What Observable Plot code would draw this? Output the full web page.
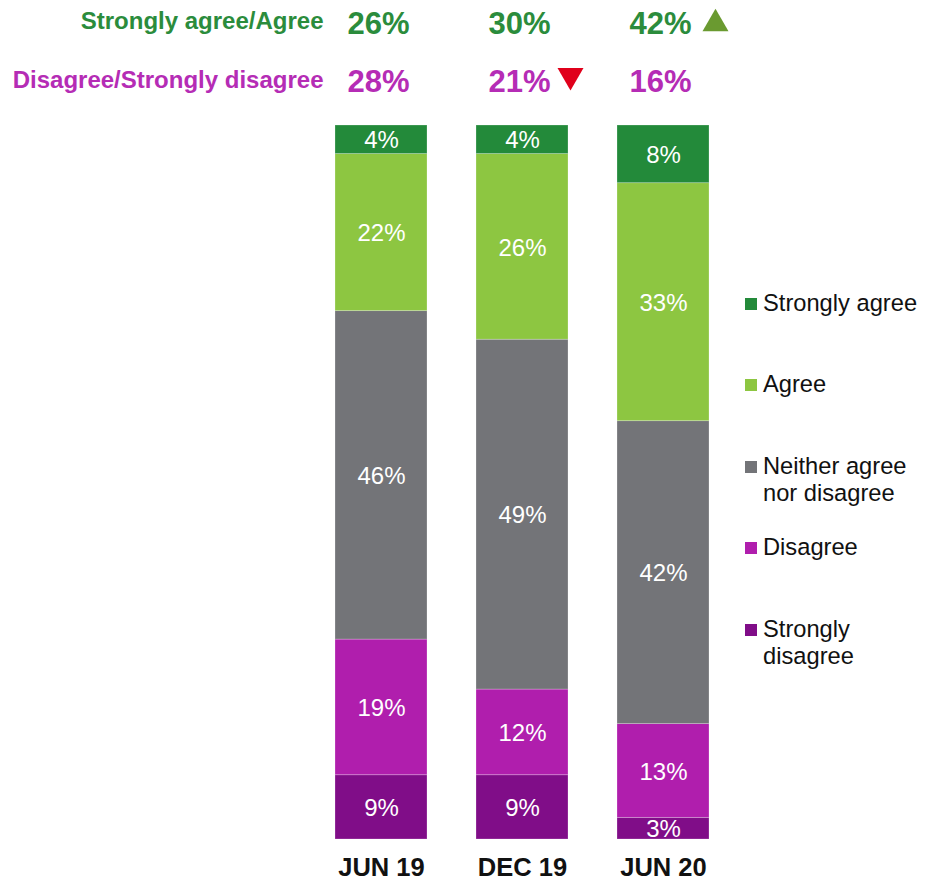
<!DOCTYPE html>
<html>
<head>
<meta charset="utf-8">
<script src="https://cdn.jsdelivr.net/npm/d3@7"></script>
<script src="https://cdn.jsdelivr.net/npm/@observablehq/plot@0.6"></script>
<style>
  html, body { margin: 0; padding: 0; background: #fff; }
  #wrap { position: relative; width: 930px; height: 881px; font-family: "Liberation Sans", Arial, sans-serif; }
  #wrap svg { display: block; }
  .lg-item { position: absolute; left: 745px; }
  .lg-sw { position: absolute; left: 0; top: 8px; width: 12px; height: 12px; }
  .lg-tx { position: absolute; left: 18px; top: 0; font-size: 23.7px; line-height: 27.5px; color: #111; white-space: nowrap; }
</style>
</head>
<body>
<div id="wrap"></div>
<script>
// ---- data ----
const periods = ["JUN 19", "DEC 19", "JUN 20"];
const categories = ["Strongly agree", "Agree", "Neither agree nor disagree", "Disagree", "Strongly disagree"];
const legendLabels = [["Strongly agree"], ["Agree"], ["Neither agree", "nor disagree"], ["Disagree"], ["Strongly", "disagree"]];
const stronglyAgree = [4, 4, 8];
const agree = [22, 26, 33];
const neither = [46, 49, 42];
const disagree = [19, 12, 13];
const stronglyDisagree = [9, 9, 3];
const agreeTotals = [26, 30, 42];
const disagreeTotals = [28, 21, 16];
const agreeChange = [null, null, "up"];
const disagreeChange = [null, "down", null];
const colors = ["#238a3a", "#8dc641", "#737478", "#b01ead", "#800d88"];

const series = [stronglyAgree, agree, neither, disagree, stronglyDisagree];
const green = "#2b8c3c";
const magenta = "#b52cb5";

// rows built bottom-to-top so stacking places "Strongly disagree" at the bottom
const rows = [];
periods.forEach((p, i) => {
  for (let j = categories.length - 1; j >= 0; j--) {
    rows.push({period: p, category: categories[j], value: series[j][i]});
  }
});

const chart = Plot.plot({
  width: 930,
  height: 881,
  marginTop: 125,
  marginBottom: 42,
  marginLeft: 309,
  marginRight: 196,
  style: {fontFamily: "'Liberation Sans', Arial, sans-serif", background: "#fff"},
  x: {domain: periods, paddingInner: 0.35, paddingOuter: 0.175, axis: null},
  y: {domain: [0, 1], axis: null},
  color: {domain: categories, range: colors},
  marks: [
    Plot.barY(rows, Plot.stackY({x: "period", y: "value", fill: "category", offset: "normalize", stroke: "white", strokeOpacity: 0.3, strokeWidth: 0.8})),
    Plot.text(rows, Plot.stackY({x: "period", y: "value", z: "category", offset: "normalize", text: d => d.value + "%", fill: "white", fontSize: 24, dy: 1})),
    // period labels under bars
    Plot.text(periods, {x: d => d, frameAnchor: "bottom", dy: 36, lineAnchor: "bottom", fontSize: 25.5, fontWeight: "bold", fill: "#111"}),
    // header rows
    Plot.text(["Strongly agree/Agree"], {frameAnchor: "top-left", dx: 14, dy: -96.7, textAnchor: "end", lineAnchor: "bottom", fontSize: 24, fontWeight: "bold", fill: green}),
    Plot.text(["Disagree/Strongly disagree"], {frameAnchor: "top-left", dx: 14, dy: -37.7, textAnchor: "end", lineAnchor: "bottom", fontSize: 24, fontWeight: "bold", fill: magenta}),
    Plot.text(periods, {x: d => d, text: (d, i) => agreeTotals[i] + "%", frameAnchor: "top", dx: -3, dy: -92, lineAnchor: "bottom", fontSize: 31, fontWeight: "bold", fill: green}),
    Plot.text(periods, {x: d => d, text: (d, i) => disagreeTotals[i] + "%", frameAnchor: "top", dx: -3, dy: -33.3, lineAnchor: "bottom", fontSize: 31, fontWeight: "bold", fill: magenta}),
    Plot.dot(periods.filter((p, i) => agreeChange[i] === "up"), {x: d => d, frameAnchor: "top", dx: 52, dy: -101.7, symbol: "triangle", r: 9.65, fill: "#6a9a30", stroke: "none"}),
    Plot.dot(periods.filter((p, i) => disagreeChange[i] === "down"), {x: d => d, frameAnchor: "top", dx: 48, dy: -50, symbol: "triangle", rotate: 180, r: 9.65, fill: "#e0001b", stroke: "none"})
  ]
});

const wrap = document.getElementById("wrap");
wrap.appendChild(chart);

// legend (HTML overlay)
categories.forEach((c, i) => {
  const item = document.createElement("div");
  item.className = "lg-item";
  item.style.top = (289.8 + i * 81.5) + "px";
  const sw = document.createElement("div");
  sw.className = "lg-sw";
  sw.style.background = colors[i];
  const tx = document.createElement("div");
  tx.className = "lg-tx";
  tx.innerHTML = legendLabels[i].join("<br>");
  item.appendChild(sw);
  item.appendChild(tx);
  wrap.appendChild(item);
});
</script>
</body>
</html>
